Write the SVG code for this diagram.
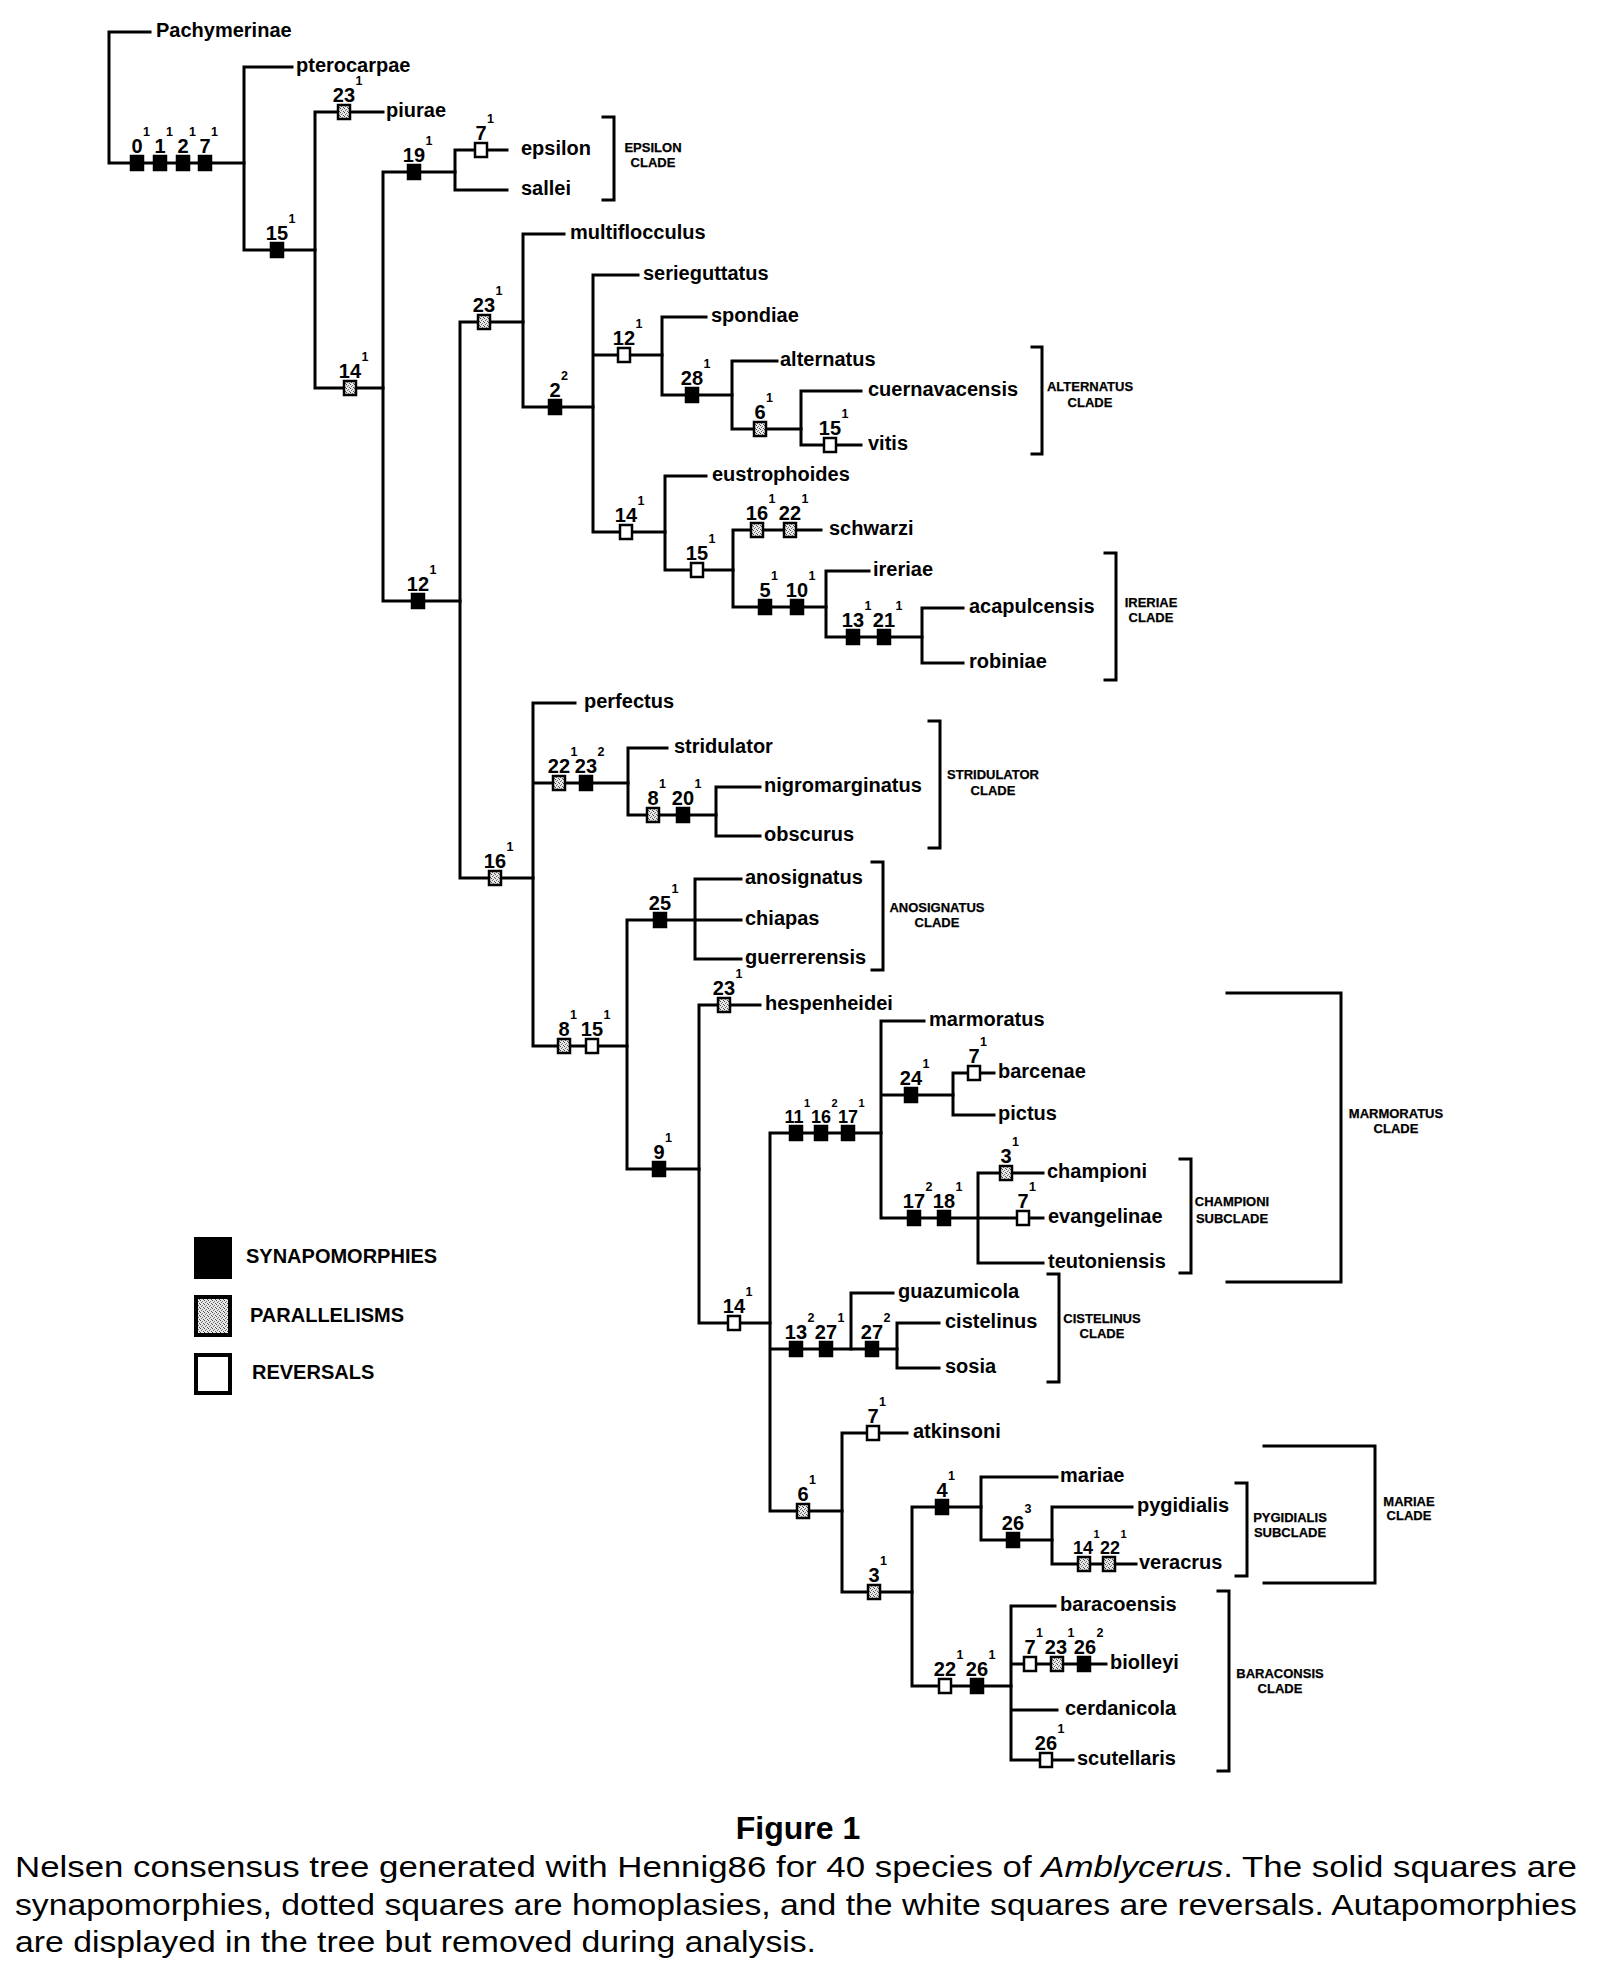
<svg xmlns="http://www.w3.org/2000/svg" xmlns:xlink="http://www.w3.org/1999/xlink" width="1597" height="1982" viewBox="0 0 1597 1982">
<style>
.ln{fill:none;stroke:#000;stroke-width:3;stroke-linecap:square}
.l{font-family:"Liberation Sans",Arial,sans-serif;font-weight:bold;font-size:20px;fill:#000}
.n{font-family:"Liberation Sans",Arial,sans-serif;font-weight:bold;font-size:20px;text-anchor:middle;fill:#000}
.nn{font-family:"Liberation Sans",Arial,sans-serif;font-weight:bold;font-size:18px;text-anchor:middle;fill:#000}
.s{font-size:12.5px}
.ss{font-size:11px}
.c{font-family:"Liberation Sans",Arial,sans-serif;font-weight:bold;font-size:13px;text-anchor:middle;fill:#000;stroke:#000;stroke-width:0.25}
.leg{font-family:"Liberation Sans",Arial,sans-serif;font-weight:bold;font-size:20px;fill:#000}
.cap{font-family:"Liberation Sans",Arial,sans-serif;font-size:30px;fill:#000}
.S{fill:#000;stroke:#000;stroke-width:2.5}
.P{fill:url(#dots);stroke:#000;stroke-width:2.5}
.R{fill:#fff;stroke:#000;stroke-width:2.5}
</style>
<defs>
<pattern id="dots" width="4" height="4" patternUnits="userSpaceOnUse">
<rect width="4" height="4" fill="#e8e8e8"/>
<rect x="0" y="0" width="1" height="1" fill="#444"/>
<rect x="2" y="1" width="1" height="1" fill="#777"/>
<rect x="1" y="2" width="1" height="1" fill="#666"/>
<rect x="3" y="3" width="1" height="1" fill="#555"/>
</pattern>
<rect id="sq" x="-6" y="-7" width="12" height="14"/>
</defs>
<rect width="1597" height="1982" fill="#fff"/>

<g id="connectors" class="ln">
<path d="M150,32 H109 V163 H244"/>
<path d="M292,67 H244 V250 H315"/>
<path d="M383,112 H315 V388 H383"/>
<path d="M455,172 H383 V601 H460"/>
<path d="M507,150 H455 V190 H507"/>
<path d="M523,322 H460 V878 H533"/>
<path d="M564,234 H523 V407 H593"/>
<path d="M638,275 H593 V532 H665 M593,355 H662"/>
<path d="M706,317 H662 V395 H732"/>
<path d="M777,361 H732 V429 H801"/>
<path d="M861,391 H801 V445 H861"/>
<path d="M706,476 H665 V570 H733"/>
<path d="M821,530 H733 V607 H826"/>
<path d="M869,571 H826 V637 H922"/>
<path d="M963,608 H922 V663 H963"/>
<path d="M575,703 H533 V1046 H627 M533,783 H628"/>
<path d="M667,748 H628 V815 H716"/>
<path d="M760,787 H716 V836 H760"/>
<path d="M695,920 H627 V1169 H699"/>
<path d="M741,879 H695 V959 H741 M695,920 H741"/>
<path d="M760,1005 H699 V1323 H770"/>
<path d="M881,1133 H770 V1511 H842 M770,1349 H897"/>
<path d="M924,1021 H881 V1218 H1043 M881,1095 H953"/>
<path d="M994,1073 H953 V1115 H994"/>
<path d="M1043,1173 H978 V1263 H1043"/>
<path d="M893,1293 H851 V1349"/>
<path d="M939,1323 H897 V1368 H939"/>
<path d="M907,1433 H842 V1592 H912"/>
<path d="M981,1507 H912 V1686 H1011"/>
<path d="M1057,1477 H981 V1540 H1052"/>
<path d="M1132,1507 H1052 V1564 H1136"/>
<path d="M1055,1606 H1011 V1760 H1073 M1011,1664 H1106 M1011,1710 H1057"/>
</g>

<g id="brackets" class="ln">
<path d="M603,117 H614 V200 H603"/>
<path d="M1032,347 H1042 V454 H1032"/>
<path d="M1105,553 H1116 V680 H1105"/>
<path d="M929,721 H940 V848 H929"/>
<path d="M872,862 H883 V970 H872"/>
<path d="M1180,1159 H1191 V1273 H1180"/>
<path d="M1048,1274 H1059 V1382 H1048"/>
<path d="M1236,1483 H1247 V1576 H1236"/>
<path d="M1218,1591 H1229 V1771 H1218"/>
<path d="M1227,993 H1341 V1282 H1227"/>
<path d="M1264,1446 H1375 V1583 H1264"/>
</g>

<g id="clade-labels" class="c">
<text x="653" y="152">EPSILON</text><text x="653" y="167">CLADE</text>
<text x="1090" y="391">ALTERNATUS</text><text x="1090" y="407">CLADE</text>
<text x="1151" y="607">IRERIAE</text><text x="1151" y="622">CLADE</text>
<text x="993" y="779">STRIDULATOR</text><text x="993" y="795">CLADE</text>
<text x="937" y="912">ANOSIGNATUS</text><text x="937" y="927">CLADE</text>
<text x="1232" y="1206">CHAMPIONI</text><text x="1232" y="1223">SUBCLADE</text>
<text x="1396" y="1118">MARMORATUS</text><text x="1396" y="1133">CLADE</text>
<text x="1102" y="1323">CISTELINUS</text><text x="1102" y="1338">CLADE</text>
<text x="1290" y="1522">PYGIDIALIS</text><text x="1290" y="1537">SUBCLADE</text>
<text x="1409" y="1506">MARIAE</text><text x="1409" y="1520">CLADE</text>
<text x="1280" y="1678">BARACONSIS</text><text x="1280" y="1693">CLADE</text>
</g>

<g id="taxa" class="l">
<g id="t-pachymerinae"><text x="156" y="37">Pachymerinae</text></g>
<g id="t-pterocarpae"><text x="296" y="72">pterocarpae</text></g>
<g id="t-piurae"><text x="386" y="117">piurae</text></g>
<g id="t-epsilon"><text x="521" y="155">epsilon</text></g>
<g id="t-sallei"><text x="521" y="195">sallei</text></g>
<g id="t-multiflocculus"><text x="570" y="239">multiflocculus</text></g>
<g id="t-serieguttatus"><text x="643" y="280">serieguttatus</text></g>
<g id="t-spondiae"><text x="711" y="322">spondiae</text></g>
<g id="t-alternatus"><text x="780" y="366">alternatus</text></g>
<g id="t-cuernavacensis"><text x="868" y="396">cuernavacensis</text></g>
<g id="t-vitis"><text x="868" y="450">vitis</text></g>
<g id="t-eustrophoides"><text x="712" y="481">eustrophoides</text></g>
<g id="t-schwarzi"><text x="829" y="535">schwarzi</text></g>
<g id="t-ireriae"><text x="873" y="576">ireriae</text></g>
<g id="t-acapulcensis"><text x="969" y="613">acapulcensis</text></g>
<g id="t-robiniae"><text x="969" y="668">robiniae</text></g>
<g id="t-perfectus"><text x="584" y="708">perfectus</text></g>
<g id="t-stridulator"><text x="674" y="753">stridulator</text></g>
<g id="t-nigromarginatus"><text x="764" y="792">nigromarginatus</text></g>
<g id="t-obscurus"><text x="764" y="841">obscurus</text></g>
<g id="t-anosignatus"><text x="745" y="884">anosignatus</text></g>
<g id="t-chiapas"><text x="745" y="925">chiapas</text></g>
<g id="t-guerrerensis"><text x="745" y="964">guerrerensis</text></g>
<g id="t-hespenheidei"><text x="765" y="1010">hespenheidei</text></g>
<g id="t-marmoratus"><text x="929" y="1026">marmoratus</text></g>
<g id="t-barcenae"><text x="998" y="1078">barcenae</text></g>
<g id="t-pictus"><text x="998" y="1120">pictus</text></g>
<g id="t-championi"><text x="1047" y="1178">championi</text></g>
<g id="t-evangelinae"><text x="1048" y="1223">evangelinae</text></g>
<g id="t-teutoniensis"><text x="1048" y="1268">teutoniensis</text></g>
<g id="t-guazumicola"><text x="898" y="1298">guazumicola</text></g>
<g id="t-cistelinus"><text x="945" y="1328">cistelinus</text></g>
<g id="t-sosia"><text x="945" y="1373">sosia</text></g>
<g id="t-atkinsoni"><text x="913" y="1438">atkinsoni</text></g>
<g id="t-mariae"><text x="1060" y="1482">mariae</text></g>
<g id="t-pygidialis"><text x="1137" y="1512">pygidialis</text></g>
<g id="t-veracrus"><text x="1139" y="1569">veracrus</text></g>
<g id="t-baracoensis"><text x="1060" y="1611">baracoensis</text></g>
<g id="t-biolleyi"><text x="1110" y="1669">biolleyi</text></g>
<g id="t-cerdanicola"><text x="1065" y="1715">cerdanicola</text></g>
<g id="t-scutellaris"><text x="1077" y="1765">scutellaris</text></g>
</g>

<g id="characters">
<g id="c-0"><use xlink:href="#sq" class="S" x="137" y="163"/><text class="n" x="140.7" y="153">0<tspan class="s" dx="0.5" dy="-17">1</tspan></text></g>
<g id="c-1"><use xlink:href="#sq" class="S" x="160" y="163"/><text class="n" x="163.7" y="153">1<tspan class="s" dx="0.5" dy="-17">1</tspan></text></g>
<g id="c-2"><use xlink:href="#sq" class="S" x="183" y="163"/><text class="n" x="186.7" y="153">2<tspan class="s" dx="0.5" dy="-17">1</tspan></text></g>
<g id="c-7"><use xlink:href="#sq" class="S" x="205" y="163"/><text class="n" x="208.7" y="153">7<tspan class="s" dx="0.5" dy="-17">1</tspan></text></g>
<g id="c-15a"><use xlink:href="#sq" class="S" x="277" y="250"/><text class="n" x="280.7" y="240">15<tspan class="s" dx="0.5" dy="-17">1</tspan></text></g>
<g id="c-23a"><use xlink:href="#sq" class="P" x="344" y="112"/><text class="n" x="347.7" y="102">23<tspan class="s" dx="0.5" dy="-17">1</tspan></text></g>
<g id="c-14a"><use xlink:href="#sq" class="P" x="350" y="388"/><text class="n" x="353.7" y="378">14<tspan class="s" dx="0.5" dy="-17">1</tspan></text></g>
<g id="c-19"><use xlink:href="#sq" class="S" x="414" y="172"/><text class="n" x="417.7" y="162">19<tspan class="s" dx="0.5" dy="-17">1</tspan></text></g>
<g id="c-7a"><use xlink:href="#sq" class="R" x="481" y="150"/><text class="n" x="484.7" y="140">7<tspan class="s" dx="0.5" dy="-17">1</tspan></text></g>
<g id="c-12a"><use xlink:href="#sq" class="S" x="418" y="601"/><text class="n" x="421.7" y="591">12<tspan class="s" dx="0.5" dy="-17">1</tspan></text></g>
<g id="c-23b"><use xlink:href="#sq" class="P" x="484" y="322"/><text class="n" x="487.7" y="312">23<tspan class="s" dx="0.5" dy="-17">1</tspan></text></g>
<g id="c-2b"><use xlink:href="#sq" class="S" x="555" y="407"/><text class="n" x="558.7" y="397">2<tspan class="s" dx="0.5" dy="-17">2</tspan></text></g>
<g id="c-12b"><use xlink:href="#sq" class="R" x="624" y="355"/><text class="n" x="627.7" y="345">12<tspan class="s" dx="0.5" dy="-17">1</tspan></text></g>
<g id="c-28"><use xlink:href="#sq" class="S" x="692" y="395"/><text class="n" x="695.7" y="385">28<tspan class="s" dx="0.5" dy="-17">1</tspan></text></g>
<g id="c-6a"><use xlink:href="#sq" class="P" x="760" y="429"/><text class="n" x="763.7" y="419">6<tspan class="s" dx="0.5" dy="-17">1</tspan></text></g>
<g id="c-15b"><use xlink:href="#sq" class="R" x="830" y="445"/><text class="n" x="833.7" y="435">15<tspan class="s" dx="0.5" dy="-17">1</tspan></text></g>
<g id="c-14b"><use xlink:href="#sq" class="R" x="626" y="532"/><text class="n" x="629.7" y="522">14<tspan class="s" dx="0.5" dy="-17">1</tspan></text></g>
<g id="c-15c"><use xlink:href="#sq" class="R" x="697" y="570"/><text class="n" x="700.7" y="560">15<tspan class="s" dx="0.5" dy="-17">1</tspan></text></g>
<g id="c-16a"><use xlink:href="#sq" class="P" x="757" y="530"/><text class="n" x="760.7" y="520">16<tspan class="s" dx="0.5" dy="-17">1</tspan></text></g>
<g id="c-22a"><use xlink:href="#sq" class="P" x="790" y="530"/><text class="n" x="793.7" y="520">22<tspan class="s" dx="0.5" dy="-17">1</tspan></text></g>
<g id="c-5"><use xlink:href="#sq" class="S" x="765" y="607"/><text class="n" x="768.7" y="597">5<tspan class="s" dx="0.5" dy="-17">1</tspan></text></g>
<g id="c-10"><use xlink:href="#sq" class="S" x="797" y="607"/><text class="n" x="800.7" y="597">10<tspan class="s" dx="0.5" dy="-17">1</tspan></text></g>
<g id="c-13a"><use xlink:href="#sq" class="S" x="853" y="637"/><text class="n" x="856.7" y="627">13<tspan class="s" dx="0.5" dy="-17">1</tspan></text></g>
<g id="c-21"><use xlink:href="#sq" class="S" x="884" y="637"/><text class="n" x="887.7" y="627">21<tspan class="s" dx="0.5" dy="-17">1</tspan></text></g>
<g id="c-16b"><use xlink:href="#sq" class="P" x="495" y="878"/><text class="n" x="498.7" y="868">16<tspan class="s" dx="0.5" dy="-17">1</tspan></text></g>
<g id="c-22b"><use xlink:href="#sq" class="P" x="559" y="783"/><text class="n" x="562.7" y="773">22<tspan class="s" dx="0.5" dy="-17">1</tspan></text></g>
<g id="c-23c"><use xlink:href="#sq" class="S" x="586" y="783"/><text class="n" x="589.7" y="773">23<tspan class="s" dx="0.5" dy="-17">2</tspan></text></g>
<g id="c-8a"><use xlink:href="#sq" class="P" x="653" y="815"/><text class="n" x="656.7" y="805">8<tspan class="s" dx="0.5" dy="-17">1</tspan></text></g>
<g id="c-20"><use xlink:href="#sq" class="S" x="683" y="815"/><text class="n" x="686.7" y="805">20<tspan class="s" dx="0.5" dy="-17">1</tspan></text></g>
<g id="c-8b"><use xlink:href="#sq" class="P" x="564" y="1046"/><text class="n" x="567.7" y="1036">8<tspan class="s" dx="0.5" dy="-17">1</tspan></text></g>
<g id="c-15d"><use xlink:href="#sq" class="R" x="592" y="1046"/><text class="n" x="595.7" y="1036">15<tspan class="s" dx="0.5" dy="-17">1</tspan></text></g>
<g id="c-25"><use xlink:href="#sq" class="S" x="660" y="920"/><text class="n" x="663.7" y="910">25<tspan class="s" dx="0.5" dy="-17">1</tspan></text></g>
<g id="c-9"><use xlink:href="#sq" class="S" x="659" y="1169"/><text class="n" x="662.7" y="1159">9<tspan class="s" dx="0.5" dy="-17">1</tspan></text></g>
<g id="c-23d"><use xlink:href="#sq" class="P" x="724" y="1005"/><text class="n" x="727.7" y="995">23<tspan class="s" dx="0.5" dy="-17">1</tspan></text></g>
<g id="c-14c"><use xlink:href="#sq" class="R" x="734" y="1323"/><text class="n" x="737.7" y="1313">14<tspan class="s" dx="0.5" dy="-17">1</tspan></text></g>
<g id="c-11"><use xlink:href="#sq" class="S" x="796" y="1133"/><text class="nn" x="797.3" y="1123">11<tspan class="ss" dx="0.5" dy="-16">1</tspan></text></g>
<g id="c-16c"><use xlink:href="#sq" class="S" x="821" y="1133"/><text class="nn" x="824.3" y="1123">16<tspan class="ss" dx="0.5" dy="-16">2</tspan></text></g>
<g id="c-17a"><use xlink:href="#sq" class="S" x="848" y="1133"/><text class="nn" x="851.3" y="1123">17<tspan class="ss" dx="0.5" dy="-16">1</tspan></text></g>
<g id="c-24"><use xlink:href="#sq" class="S" x="911" y="1095"/><text class="n" x="914.7" y="1085">24<tspan class="s" dx="0.5" dy="-17">1</tspan></text></g>
<g id="c-7b"><use xlink:href="#sq" class="R" x="974" y="1073"/><text class="n" x="977.7" y="1063">7<tspan class="s" dx="0.5" dy="-17">1</tspan></text></g>
<g id="c-17b"><use xlink:href="#sq" class="S" x="914" y="1218"/><text class="n" x="917.7" y="1208">17<tspan class="s" dx="0.5" dy="-17">2</tspan></text></g>
<g id="c-18"><use xlink:href="#sq" class="S" x="944" y="1218"/><text class="n" x="947.7" y="1208">18<tspan class="s" dx="0.5" dy="-17">1</tspan></text></g>
<g id="c-3a"><use xlink:href="#sq" class="P" x="1006" y="1173"/><text class="n" x="1009.7" y="1163">3<tspan class="s" dx="0.5" dy="-17">1</tspan></text></g>
<g id="c-7c"><use xlink:href="#sq" class="R" x="1023" y="1218"/><text class="n" x="1026.7" y="1208">7<tspan class="s" dx="0.5" dy="-17">1</tspan></text></g>
<g id="c-13b"><use xlink:href="#sq" class="S" x="796" y="1349"/><text class="n" x="799.7" y="1339">13<tspan class="s" dx="0.5" dy="-17">2</tspan></text></g>
<g id="c-27a"><use xlink:href="#sq" class="S" x="826" y="1349"/><text class="n" x="829.7" y="1339">27<tspan class="s" dx="0.5" dy="-17">1</tspan></text></g>
<g id="c-27b"><use xlink:href="#sq" class="S" x="872" y="1349"/><text class="n" x="875.7" y="1339">27<tspan class="s" dx="0.5" dy="-17">2</tspan></text></g>
<g id="c-6b"><use xlink:href="#sq" class="P" x="803" y="1511"/><text class="n" x="806.7" y="1501">6<tspan class="s" dx="0.5" dy="-17">1</tspan></text></g>
<g id="c-7d"><use xlink:href="#sq" class="R" x="873" y="1433"/><text class="n" x="876.7" y="1423">7<tspan class="s" dx="0.5" dy="-17">1</tspan></text></g>
<g id="c-3b"><use xlink:href="#sq" class="P" x="874" y="1592"/><text class="n" x="877.7" y="1582">3<tspan class="s" dx="0.5" dy="-17">1</tspan></text></g>
<g id="c-4"><use xlink:href="#sq" class="S" x="942" y="1507"/><text class="n" x="945.7" y="1497">4<tspan class="s" dx="0.5" dy="-17">1</tspan></text></g>
<g id="c-26a"><use xlink:href="#sq" class="S" x="1013" y="1540"/><text class="n" x="1016.7" y="1530">26<tspan class="s" dx="0.5" dy="-17">3</tspan></text></g>
<g id="c-14d"><use xlink:href="#sq" class="P" x="1084" y="1564"/><text class="nn" x="1086.3" y="1554">14<tspan class="ss" dx="0.5" dy="-16">1</tspan></text></g>
<g id="c-22c"><use xlink:href="#sq" class="P" x="1109" y="1564"/><text class="nn" x="1113.3" y="1554">22<tspan class="ss" dx="0.5" dy="-16">1</tspan></text></g>
<g id="c-22d"><use xlink:href="#sq" class="R" x="945" y="1686"/><text class="n" x="948.7" y="1676">22<tspan class="s" dx="0.5" dy="-17">1</tspan></text></g>
<g id="c-26b"><use xlink:href="#sq" class="S" x="977" y="1686"/><text class="n" x="980.7" y="1676">26<tspan class="s" dx="0.5" dy="-17">1</tspan></text></g>
<g id="c-7e"><use xlink:href="#sq" class="R" x="1030" y="1664"/><text class="n" x="1033.7" y="1654">7<tspan class="s" dx="0.5" dy="-17">1</tspan></text></g>
<g id="c-23e"><use xlink:href="#sq" class="P" x="1057" y="1664"/><text class="n" x="1059.7" y="1654">23<tspan class="s" dx="0.5" dy="-17">1</tspan></text></g>
<g id="c-26c"><use xlink:href="#sq" class="S" x="1084" y="1664"/><text class="n" x="1088.7" y="1654">26<tspan class="s" dx="0.5" dy="-17">2</tspan></text></g>
<g id="c-26d"><use xlink:href="#sq" class="R" x="1046" y="1760"/><text class="n" x="1049.7" y="1750">26<tspan class="s" dx="0.5" dy="-17">1</tspan></text></g>
</g>

<g id="legend">
<rect x="196" y="1239" width="34" height="38" fill="#000" stroke="#000" stroke-width="4"/>
<text class="leg" x="246" y="1263">SYNAPOMORPHIES</text>
<rect x="196" y="1297" width="34" height="38" fill="url(#dots)" stroke="#000" stroke-width="4"/>
<text class="leg" x="250" y="1322">PARALLELISMS</text>
<rect x="196" y="1355" width="34" height="38" fill="#fff" stroke="#000" stroke-width="4"/>
<text class="leg" x="252" y="1379">REVERSALS</text>
</g>

<g id="caption">
<text x="798" y="1839" text-anchor="middle" style="font-family:'Liberation Sans',Arial,sans-serif;font-weight:bold;font-size:32px">Figure 1</text>
<text class="cap" x="15" y="1877" textLength="1562" lengthAdjust="spacingAndGlyphs">Nelsen consensus tree generated with Hennig86 for 40 species of <tspan font-style="italic">Amblycerus</tspan>. The solid squares are</text>
<text class="cap" x="15" y="1915" textLength="1562" lengthAdjust="spacingAndGlyphs">synapomorphies, dotted squares are homoplasies, and the white squares are reversals. Autapomorphies</text>
<text class="cap" x="15" y="1952" textLength="801" lengthAdjust="spacingAndGlyphs">are displayed in the tree but removed during analysis.</text>
</g>
</svg>
